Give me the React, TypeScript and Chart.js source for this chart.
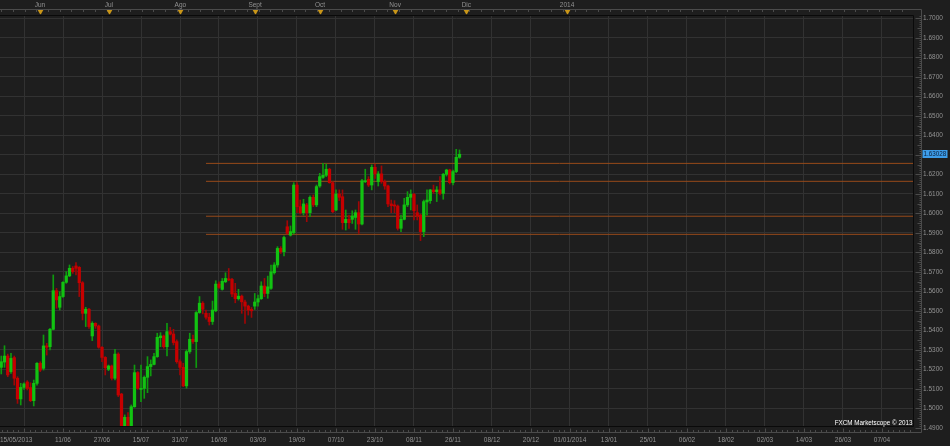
import { useEffect, useRef } from 'react';
import { Chart, registerables } from 'chart.js';

Chart.register(...registerables);

// ---- Daily candles (index 0 = 15/05/2013) ----
const opens = [
  1.5210, 1.5237, 1.5268, 1.5188, 1.5260, 1.5154, 1.5048, 1.5107, 1.5135, 1.5106,
  1.5039, 1.5128, 1.5231, 1.5205, 1.5320, 1.5316, 1.5405, 1.5603, 1.5518, 1.5573,
  1.5646, 1.5679, 1.5718, 1.5730, 1.5723, 1.5644, 1.5487, 1.5508, 1.5371, 1.5436,
  1.5422, 1.5313, 1.5261, 1.5200, 1.5217, 1.5154, 1.5278, 1.5073, 1.4889, 1.4954,
  1.4889, 1.5008, 1.5183, 1.5097, 1.5102, 1.5159, 1.5214, 1.5225, 1.5265, 1.5362,
  1.5371, 1.5316, 1.5393, 1.5381, 1.5342, 1.5239, 1.5210, 1.5115, 1.5291, 1.5354,
  1.5342, 1.5491, 1.5539, 1.5487, 1.5467, 1.5445, 1.5500, 1.5637, 1.5610, 1.5649,
  1.5664, 1.5661, 1.5589, 1.5562, 1.5575, 1.5545, 1.5524, 1.5507, 1.5524, 1.5545,
  1.5562, 1.5627, 1.5589, 1.5615, 1.5695, 1.5735, 1.5820, 1.5803, 1.5931, 1.5888,
  1.5901, 1.6145, 1.6034, 1.6003, 1.6043, 1.6003, 1.6082, 1.6043, 1.6140, 1.6184,
  1.6195, 1.6226, 1.6157, 1.6017, 1.6099, 1.6085, 1.5952, 1.5969, 1.5969, 1.5979,
  1.6003, 1.5945, 1.6162, 1.6174, 1.6145, 1.6236, 1.6162, 1.6202, 1.6162, 1.6140,
  1.6048, 1.6043, 1.6037, 1.5923, 1.5969, 1.6043, 1.6082, 1.6097, 1.6003, 1.5991,
  1.5906, 1.6058, 1.6065, 1.6120, 1.6111, 1.6120, 1.6102, 1.6200, 1.6222, 1.6157,
  1.6214, 1.6287,
];
const highs = [
  1.5268, 1.5321, 1.5278, 1.5282, 1.5268, 1.5162, 1.5128, 1.5131, 1.5142, 1.5131,
  1.5145, 1.5234, 1.5239, 1.5376, 1.5333, 1.5410, 1.5684, 1.5615, 1.5598, 1.5650,
  1.5701, 1.5735, 1.5727, 1.5747, 1.5727, 1.5650, 1.5518, 1.5513, 1.5444, 1.5439,
  1.5427, 1.5316, 1.5265, 1.5222, 1.5222, 1.5302, 1.5285, 1.5077, 1.4966, 1.4978,
  1.5017, 1.5222, 1.5188, 1.5222, 1.5166, 1.5265, 1.5248, 1.5282, 1.5385, 1.5388,
  1.5376, 1.5436, 1.5415, 1.5405, 1.5351, 1.5248, 1.5231, 1.5299, 1.5385, 1.5376,
  1.5496, 1.5573, 1.5547, 1.5504, 1.5487, 1.5550, 1.5654, 1.5649, 1.5666, 1.5695,
  1.5717, 1.5666, 1.5641, 1.5610, 1.5581, 1.5555, 1.5529, 1.5517, 1.5589, 1.5581,
  1.5649, 1.5666, 1.5678, 1.5735, 1.5747, 1.5829, 1.5829, 1.5883, 1.5962, 1.5935,
  1.6157, 1.6157, 1.6068, 1.6072, 1.6051, 1.6089, 1.6094, 1.6145, 1.6205, 1.6256,
  1.6253, 1.6231, 1.6162, 1.6120, 1.6120, 1.6120, 1.6017, 1.5991, 1.6013, 1.6017,
  1.6060, 1.6174, 1.6226, 1.6188, 1.6248, 1.6253, 1.6214, 1.6243, 1.6171, 1.6145,
  1.6068, 1.6065, 1.6043, 1.5991, 1.6077, 1.6111, 1.6120, 1.6102, 1.6043, 1.5996,
  1.6068, 1.6120, 1.6123, 1.6145, 1.6137, 1.6188, 1.6205, 1.6226, 1.6226, 1.6222,
  1.6328, 1.6325,
];
const lows = [
  1.5176, 1.5210, 1.5162, 1.5179, 1.5119, 1.5025, 1.5017, 1.5097, 1.5094, 1.5034,
  1.5012, 1.5119, 1.5188, 1.5196, 1.5273, 1.5299, 1.5402, 1.5513, 1.5504, 1.5569,
  1.5641, 1.5675, 1.5692, 1.5684, 1.5573, 1.5453, 1.5419, 1.5410, 1.5347, 1.5410,
  1.5308, 1.5239, 1.5171, 1.5193, 1.5145, 1.5145, 1.5060, 1.4880, 1.4880, 1.4880,
  1.4880, 1.5005, 1.5097, 1.5034, 1.5051, 1.5080, 1.5166, 1.5222, 1.5261, 1.5316,
  1.5308, 1.5268, 1.5376, 1.5325, 1.5231, 1.5171, 1.5111, 1.5103, 1.5282, 1.5333,
  1.5209, 1.5487, 1.5484, 1.5457, 1.5427, 1.5430, 1.5495, 1.5615, 1.5606, 1.5644,
  1.5654, 1.5572, 1.5541, 1.5555, 1.5487, 1.5435, 1.5478, 1.5466, 1.5507, 1.5524,
  1.5558, 1.5572, 1.5564, 1.5610, 1.5688, 1.5723, 1.5794, 1.5781, 1.5894, 1.5883,
  1.5894, 1.6003, 1.5996, 1.5991, 1.5957, 1.5983, 1.6034, 1.6034, 1.6133, 1.6179,
  1.6188, 1.6154, 1.6003, 1.6013, 1.6065, 1.5918, 1.5914, 1.5923, 1.5948, 1.5918,
  1.5897, 1.5940, 1.6157, 1.6137, 1.6120, 1.6179, 1.6140, 1.6154, 1.6123, 1.6034,
  1.6003, 1.6003, 1.5914, 1.5906, 1.5966, 1.6034, 1.6017, 1.5966, 1.5966, 1.5860,
  1.5880, 1.5991, 1.6051, 1.6102, 1.6060, 1.6094, 1.6072, 1.6191, 1.6150, 1.6145,
  1.6208, 1.6282,
];
const closes = [
  1.5239, 1.5268, 1.5171, 1.5256, 1.5154, 1.5048, 1.5107, 1.5125, 1.5102, 1.5039,
  1.5128, 1.5231, 1.5196, 1.5320, 1.5313, 1.5405, 1.5603, 1.5556, 1.5573, 1.5646,
  1.5679, 1.5718, 1.5701, 1.5718, 1.5644, 1.5487, 1.5508, 1.5419, 1.5436, 1.5422,
  1.5313, 1.5261, 1.5208, 1.5217, 1.5154, 1.5278, 1.5068, 1.4889, 1.4954, 1.4889,
  1.5008, 1.5183, 1.5102, 1.5102, 1.5159, 1.5214, 1.5225, 1.5265, 1.5364, 1.5371,
  1.5316, 1.5393, 1.5381, 1.5337, 1.5239, 1.5210, 1.5115, 1.5291, 1.5354, 1.5342,
  1.5491, 1.5539, 1.5508, 1.5467, 1.5445, 1.5504, 1.5637, 1.5620, 1.5651, 1.5666,
  1.5658, 1.5586, 1.5562, 1.5575, 1.5546, 1.5524, 1.5504, 1.5500, 1.5545, 1.5562,
  1.5627, 1.5589, 1.5623, 1.5700, 1.5735, 1.5820, 1.5803, 1.5876, 1.5897, 1.5906,
  1.6145, 1.6034, 1.6003, 1.6048, 1.6003, 1.6082, 1.6043, 1.6137, 1.6188, 1.6195,
  1.6226, 1.6157, 1.6008, 1.6099, 1.6082, 1.5952, 1.5969, 1.5952, 1.5986, 1.6003,
  1.5945, 1.6167, 1.6167, 1.6145, 1.6236, 1.6202, 1.6202, 1.6162, 1.6140, 1.6048,
  1.6039, 1.6037, 1.5923, 1.5969, 1.6043, 1.6082, 1.6097, 1.6013, 1.5986, 1.5906,
  1.6060, 1.6068, 1.6120, 1.6111, 1.6120, 1.6102, 1.6200, 1.6222, 1.6157, 1.6214,
  1.6287, 1.63028,
];

// ---- Axis labels ----
const dateTickIndex = [4.6, 7, 19, 31, 43, 55, 67, 79, 91, 103, 115, 127, 139, 151, 163, 175, 187, 199, 211, 223, 235, 247, 259, 271];
const dateTickLabels = ['15/05/2013', '', '11/06', '27/06', '15/07', '31/07', '16/08', '03/09', '19/09', '07/10', '23/10', '08/11', '26/11', '08/12', '20/12', '01/01/2014', '13/01', '25/01', '06/02', '18/02', '02/03', '14/03', '26/03', '07/04'];
const monthIndex = [11.9, 33.1, 55.1, 78.1, 98.1, 121.2, 143.1, 174.1];
const monthLabels = ['Jun', 'Jul', 'Ago', 'Sept', 'Oct', 'Nov', 'Dic', '2014'];
const priceTicks = [1.49, 1.5, 1.51, 1.52, 1.53, 1.54, 1.55, 1.56, 1.57, 1.58, 1.59, 1.6, 1.61, 1.62, 1.63, 1.64, 1.65, 1.66, 1.67, 1.68, 1.69, 1.7];

// ---- Horizontal levels ----
const levelPrices = [1.6256, 1.6164, 1.5985, 1.5892];
const levelStartIndex = 63;
const lastPrice = 1.63028;

// ---- View ----
const X_MIN = -0.385;
const X_MAX = 280.54;
const Y_MIN = 1.49092;
const Y_MAX = 1.70118;

const BG = '#1e1e1e';
const GRID = '#323232';
const AXIS_GRAY = '#4b4b4b';
const LABEL = '#929292';
const UP = '#12c312';
const DOWN = '#c60000';
const UP_WICK = '#0e9a0e';
const DOWN_WICK = '#a00606';
const LEVEL = '#974a1a';
const FONT = "'Liberation Sans', Arial, sans-serif";

export default function App() {
  const ref = useRef<HTMLCanvasElement | null>(null);

  useEffect(() => {
    const canvas = ref.current;
    if (!canvas) return;
    const idx = closes.map((_, i) => i);
    const isUp = idx.map((i) => closes[i] >= opens[i]);

    const overlay = {
      id: 'overlay',
      beforeDraw(chart: any) {
        const c = chart.ctx;
        c.save();
        c.fillStyle = BG;
        c.fillRect(0, 0, chart.width, chart.height);
        c.restore();
      },
      afterDraw(chart: any) {
        const c = chart.ctx as CanvasRenderingContext2D;
        const ca = chart.chartArea;
        const xs = chart.scales.x;
        const ys = chart.scales.y;
        const gx = Math.round(ca.right) + 8.5;
        const topLine = 9.5;
        const botLine = Math.round(ca.bottom) + 6.5;
        c.save();
        c.lineWidth = 1;
        // chart border
        c.strokeStyle = '#0a0a0a';
        c.beginPath();
        c.moveTo(0, Math.round(ca.top) - 0.5);
        c.lineTo(Math.round(ca.right) + 0.5, Math.round(ca.top) - 0.5);
        c.moveTo(0, Math.round(ca.bottom) + 0.5);
        c.lineTo(Math.round(ca.right) + 0.5, Math.round(ca.bottom) + 0.5);
        c.moveTo(Math.round(ca.right) + 0.5, Math.round(ca.top) - 0.5);
        c.lineTo(Math.round(ca.right) + 0.5, Math.round(ca.bottom) + 0.5);
        c.stroke();
        // axis strips
        c.strokeStyle = AXIS_GRAY;
        c.beginPath();
        c.moveTo(0, topLine);
        c.lineTo(gx, topLine);
        c.moveTo(0, botLine);
        c.lineTo(gx, botLine);
        c.moveTo(gx, topLine);
        c.lineTo(gx, botLine);
        // top minor ticks
        for (let v = 0; v <= X_MAX; v += 3.6) {
          const px = Math.round(xs.getPixelForValue(v)) + 0.5;
          c.moveTo(px, topLine);
          c.lineTo(px, topLine + 2.5);
        }
        // bottom ticks
        for (let v = dateTickIndex[1] - 12; v <= X_MAX; v += 12 / 7) {
          const px = Math.round(xs.getPixelForValue(v)) + 0.5;
          if (px < 0) continue;
          const k = Math.round((v - dateTickIndex[1]) / (12 / 7));
          const major = k % 7 === 0;
          c.moveTo(px, botLine);
          c.lineTo(px, botLine - (major ? 4 : 2.5));
        }
        // right ticks
        for (let i = 1490; i <= 1702; i++) {
          const py = Math.round(ys.getPixelForValue(i / 1000)) + 0.5;
          if (py < ca.top - 1 || py > ca.bottom + 3) continue;
          const len = i % 10 === 0 ? 6 : i % 5 === 0 ? 4 : 2;
          c.moveTo(gx, py);
          c.lineTo(gx - len, py);
        }
        c.stroke();
        // month markers
        monthIndex.forEach((v) => {
          const px = Math.round(xs.getPixelForValue(v)) + 0.5;
          c.fillStyle = '#c99619';
          c.beginPath();
          c.moveTo(px - 2.8, topLine + 0.5);
          c.lineTo(px + 2.8, topLine + 0.5);
          c.lineTo(px, topLine + 5.5);
          c.closePath();
          c.fill();
          c.strokeStyle = '#050505';
          c.beginPath();
          c.moveTo(px, topLine + 5);
          c.lineTo(px, ca.top);
          c.stroke();
        });
        // last price box
        const py = ys.getPixelForValue(lastPrice);
        c.fillStyle = '#3d9ce8';
        c.fillRect(gx + 1, Math.round(py) - 4, 25, 8);
        c.fillStyle = '#0b1f3a';
        c.font = `6.3px ${FONT}`;
        c.textBaseline = 'middle';
        c.textAlign = 'left';
        c.fillText(lastPrice.toFixed(5), gx + 2, Math.round(py) + 0.5);
        // watermark
        c.fillStyle = '#ffffff';
        c.font = `6.3px ${FONT}`;
        c.textAlign = 'right';
        c.fillText('FXCM Marketscope \u00a9 2013', Math.round(ca.right) - 0.5, Math.round(ca.bottom) - 3);
        c.restore();
      },
    };

    const chart = new Chart(canvas, {
      type: 'bar',
      data: {
        datasets: [
          ...levelPrices.map((p) => ({
            type: 'line' as const,
            data: [
              { x: levelStartIndex, y: p },
              { x: X_MAX, y: p },
            ],
            borderColor: LEVEL,
            borderWidth: 1,
            pointRadius: 0,
            fill: false,
            order: 3,
            xAxisID: 'x',
            yAxisID: 'y',
          })),
          {
            type: 'bar' as const,
            data: idx.map((i) => ({ x: i, y: [lows[i], highs[i]] })),
            backgroundColor: idx.map((i) => (isUp[i] ? UP_WICK : DOWN_WICK)),
            barThickness: 1,
            grouped: false,
            borderWidth: 0,
            order: 2,
            xAxisID: 'x',
            yAxisID: 'y',
          },
          {
            type: 'bar' as const,
            data: idx.map((i) => ({ x: i, y: [opens[i], closes[i]] })),
            backgroundColor: idx.map((i) => (isUp[i] ? UP : DOWN)),
            barThickness: 2.6,
            grouped: false,
            borderWidth: 0,
            minBarLength: 1,
            order: 1,
            xAxisID: 'x',
            yAxisID: 'y',
          },
        ] as any,
      },
      options: {
        animation: false,
        responsive: false,
        devicePixelRatio: 1,
        events: [],
        layout: { padding: 0 },
        plugins: { legend: { display: false }, tooltip: { enabled: false } },
        scales: {
          x: {
            type: 'linear',
            position: 'bottom',
            min: X_MIN,
            max: X_MAX,
            offset: false,
            afterBuildTicks: (s: any) => {
              s.ticks = dateTickIndex.map((v) => ({ value: v }));
            },
            afterFit: (s: any) => {
              s.height = 20;
              s.paddingLeft = 0;
              s.paddingRight = 0;
            },
            grid: {
              offset: false,
              drawTicks: false,
              color: (ctx: any) => (ctx.index === 0 ? 'rgba(0,0,0,0)' : GRID),
              lineWidth: 1,
            },
            border: { display: false },
            ticks: {
              autoSkip: false,
              maxRotation: 0,
              minRotation: 0,
              padding: 10,
              color: LABEL,
              font: { family: FONT, size: 6.5 },
              callback: (_v: any, i: number) => dateTickLabels[i],
            },
          },
          xTop: {
            type: 'linear',
            position: 'top',
            min: X_MIN,
            max: X_MAX,
            offset: false,
            afterBuildTicks: (s: any) => {
              s.ticks = monthIndex.map((v) => ({ value: v }));
            },
            afterFit: (s: any) => {
              s.height = 16;
              s.paddingLeft = 0;
              s.paddingRight = 0;
            },
            grid: { display: false, drawTicks: false },
            border: { display: false },
            ticks: {
              autoSkip: false,
              maxRotation: 0,
              minRotation: 0,
              padding: 7,
              color: LABEL,
              font: { family: FONT, size: 6.5 },
              callback: (_v: any, i: number) => monthLabels[i],
            },
          },
          y: {
            type: 'linear',
            position: 'right',
            min: Y_MIN,
            max: Y_MAX,
            afterBuildTicks: (s: any) => {
              s.ticks = priceTicks.map((v) => ({ value: v }));
            },
            afterFit: (s: any) => {
              s.width = 37;
              s.paddingTop = 0;
              s.paddingBottom = 0;
            },
            grid: {
              drawTicks: false,
              color: (ctx: any) => (ctx.tick && ctx.tick.value < Y_MIN ? 'rgba(0,0,0,0)' : GRID),
              lineWidth: 1,
            },
            border: { display: false },
            ticks: {
              autoSkip: false,
              padding: 10,
              color: LABEL,
              font: { family: FONT, size: 6.5 },
              callback: (v: any) => Number(v).toFixed(4),
            },
          },
        } as any,
      },
      plugins: [overlay],
    });

    return () => chart.destroy();
  }, []);

  return (
    <div style={{ position: 'fixed', left: 0, top: 0, width: 950, height: 446, background: BG }}>
      <canvas ref={ref} width={950} height={446} style={{ display: 'block', width: 950, height: 446 }} />
    </div>
  );
}
